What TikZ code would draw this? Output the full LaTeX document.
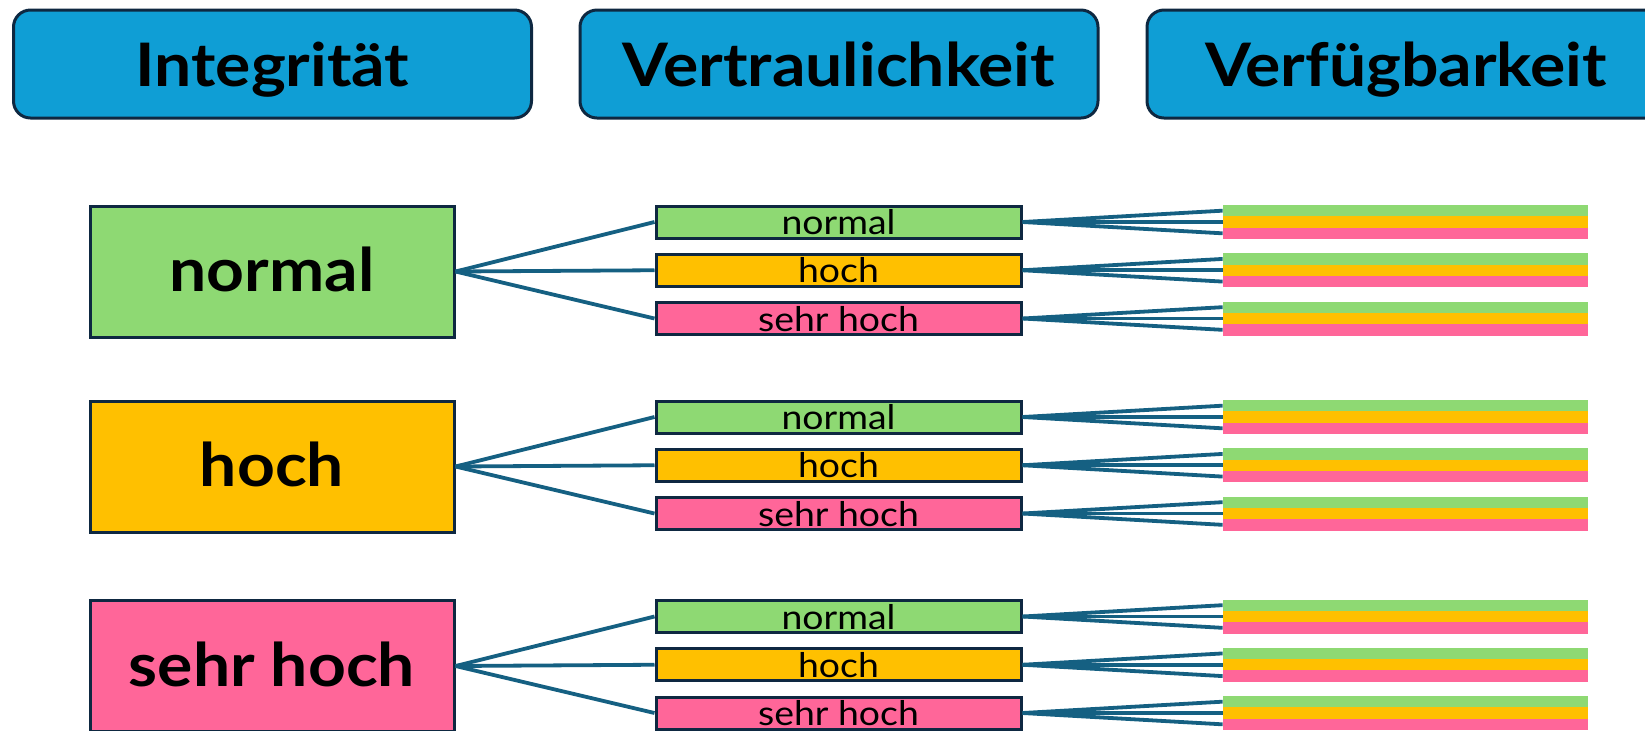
\documentclass[tikz,border=0pt]{standalone}
\usepackage{fontspec}
\setmainfont{Lato}[FakeStretch=1.1]
\definecolor{hblue}{HTML}{0F9ED5}
\definecolor{navy}{HTML}{0E2841}
\definecolor{cgreen}{HTML}{8ED973}
\definecolor{corange}{HTML}{FFC000}
\definecolor{cpink}{HTML}{FF6699}
\definecolor{lineblue}{HTML}{156082}
\begin{document}
\begin{tikzpicture}[x=0.5pt,y=-0.5pt,
  header/.style={draw=navy,line width=1.5pt,fill=hblue,rounded corners=8.5pt,
    minimum width=259pt,minimum height=54pt,inner sep=0pt,
    text height=24pt,text depth=2pt,
    font=\bfseries\fontsize{30}{36}\selectfont},
  lbox/.style={draw=navy,line width=1.5pt,minimum width=182pt,minimum height=65.5pt,
    inner sep=0pt,text height=22pt,text depth=2pt,
    font=\bfseries\fontsize{30}{34}\selectfont},
  mbox/.style={draw=navy,line width=1.5pt,minimum width=182.5pt,minimum height=16pt,
    inner sep=0pt,text height=13.5pt,text depth=1pt,
    font=\fontsize{17}{20}\selectfont},
  sbox/.style={inner sep=0pt,minimum width=182.5pt,minimum height=5.67pt},
  conn/.style={draw=lineblue,line width=1.9pt}]
\useasboundingbox (0,0) rectangle (1645,730);
\clip (0,0) rectangle (1645,730);
\node[header] (H1) at (272.5,64) {Integrität};
\node[header] (H2) at (839,64) {Vertraulichkeit};
\node[header] (H3) at (1406,64) {Verfügbarkeit};
\foreach \i/\gt/\lt/\lc in {1/205/normal/cgreen,2/400/hoch/corange,3/599.5/sehr hoch/cpink}{
  \node[lbox,fill=\lc] (L\i) at (272,\gt+66.5) {\lt};
  \foreach \j/\mt/\mc in {1/normal/cgreen,2/hoch/corange,3/sehr hoch/cpink}{
    \pgfmathsetmacro\my{\gt+17+(\j-1)*48.25}
    \node[mbox,fill=\mc] (M\i\j) at (838.5,\my) {\mt};
    \draw[conn] (L\i.east) -- (M\i\j.west);
    \foreach \k/\sc in {1/cgreen,2/corange,3/cpink}{
      \node[sbox,fill=\sc] (S\i\j\k) at (1405.5,\my-11.33+\k*11.33-11.33) {};
      \draw[conn] (M\i\j.east) -- (S\i\j\k.west);
    }
  }
}
\end{tikzpicture}
\end{document}
